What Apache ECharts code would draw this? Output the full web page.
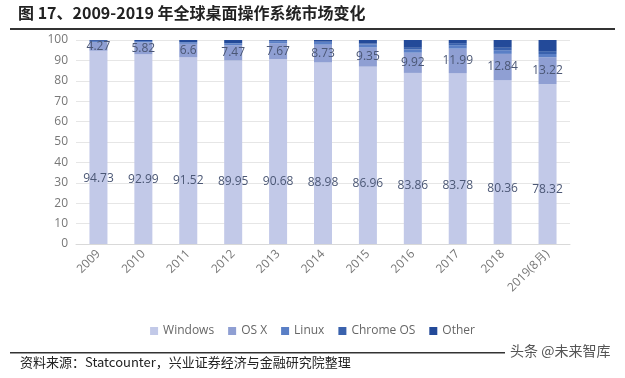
<!DOCTYPE html>
<html><head><meta charset="utf-8">
<script src="https://cdn.jsdelivr.net/npm/echarts@6/dist/echarts.min.js"></script>
<style>html,body{margin:0;padding:0;background:#fff}#c{width:625px;height:378px}</style>
</head><body><div id="c"></div>
<script>
const categories = ['2009','2010','2011','2012','2013','2014','2015','2016','2017','2018','2019(8月)'];
const windows = [94.73,92.99,91.52,89.95,90.68,88.98,86.96,83.86,83.78,80.36,78.32];
const osx = [4.27,5.82,6.6,7.47,7.67,8.73,9.35,9.92,11.99,12.84,13.22];
const linux = [0.6,0.7,0.8,1.0,1.1,1.3,1.5,1.6,1.7,1.8,1.6];
const chromeos = [0,0,0.1,0.1,0.15,0.2,0.4,0.8,1.0,1.2,1.4];
const other = [0.4,0.49,0.98,1.48,0.4,0.79,1.79,3.82,1.53,3.8,5.46];
const yTicks = [0,10,20,30,40,50,60,70,80,90,100];

const chart = echarts.init(document.getElementById('c'));
const lblColor = '#4b5775';
function s(name, data, color, label) {
  return {name, type:'bar', stack:'a', data, barWidth:18,
    itemStyle:{color}, label: label || {show:false}};
}
chart.setOption({
  animation:false,
  grid:{left:76,right:55,top:40,bottom:134},
  legend:{bottom:36,left:'center',itemWidth:8,itemHeight:8,itemGap:14,icon:'rect',
    textStyle:{color:'#666',fontSize:12,fontFamily:'Open Sans'}},
  xAxis:{type:'category',data:categories,
    axisLine:{lineStyle:{color:'#d9d9d9'}},axisTick:{show:false},
    axisLabel:{rotate:45,color:'#777',fontSize:12,fontFamily:'Open Sans',interval:0,margin:8}},
  yAxis:{type:'value',min:0,max:100,interval:10,
    axisLine:{show:false},axisTick:{show:false},
    splitLine:{lineStyle:{color:'#e6e6e6'}},
    axisLabel:{color:'#777',fontSize:12,fontFamily:'Open Sans',margin:8,
      formatter:v=>yTicks.includes(v)?String(v):''}},
  series:[
    s('Windows',windows,'#c2c9e8',{show:true,position:['50%','66%'],align:'center',verticalAlign:'middle',color:lblColor,fontSize:12,fontFamily:'Open Sans'}),
    s('OS X',osx,'#8f9fd3',{show:true,position:'inside',color:lblColor,fontSize:12,fontFamily:'Open Sans'}),
    s('Linux',linux,'#5a7fc6'),
    s('Chrome OS',chromeos,'#3a62ad'),
    s('Other',other,'#234a99')
  ],
  graphic:[
    {type:'text',left:18,top:5,style:{text:'图 17、2009-2019 年全球桌面操作系统市场变化',fill:'#222',font:'bold 16px "Noto Sans CJK SC"'}},
    {type:'rect',shape:{x:10,y:28,width:605,height:2},style:{fill:'#333'}},
    {type:'rect',shape:{x:10,y:352,width:495,height:1.5},style:{fill:'#333'}},
    {type:'text',left:20,top:356,style:{text:'资料来源：Statcounter，兴业证券经济与金融研究院整理',fill:'#222',font:'13px "Noto Sans CJK SC"'}},
    {type:'text',left:510,top:344,style:{text:'头条 @未来智库',fill:'#555',font:'14px "Noto Sans CJK SC"'}}
  ]
});
</script></body></html>
